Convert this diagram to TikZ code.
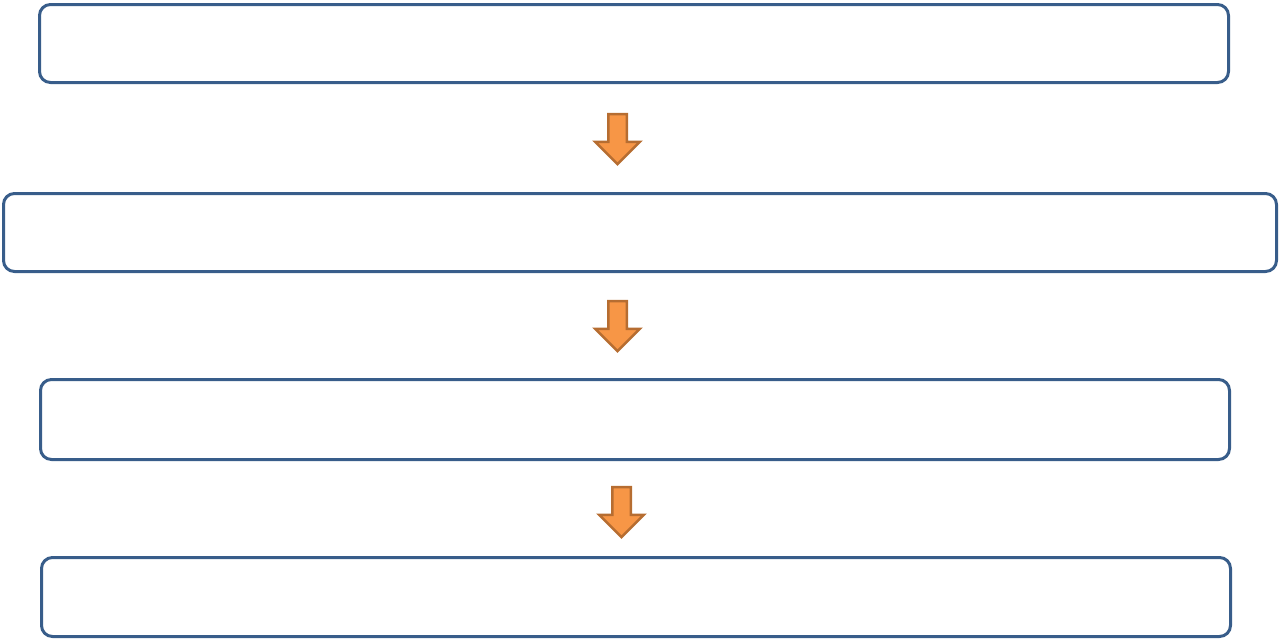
\documentclass[tikz,border=0pt]{standalone}
\usepackage{tikz}
\usetikzlibrary{shapes.arrows}
\definecolor{boxblue}{RGB}{56, 93, 138}
\definecolor{arroworange}{RGB}{247, 150, 70}
\definecolor{arrowedge}{RGB}{182, 109, 49}

\begin{document}
\begin{tikzpicture}[x=1pt, y=-1pt,
  flowbox/.style={draw=boxblue, line width=3pt, rounded corners=11pt,
    minimum height=78pt, inner sep=0pt},
  downarrow/.style={single arrow, draw=arrowedge, fill=arroworange,
    line width=2.5pt, shape border rotate=270, inner sep=8pt,
    single arrow head extend=13pt, minimum height=50pt}]
  \useasboundingbox (0,0) rectangle (1280,641);

  % Boxes
  \node[flowbox, minimum width=1189pt] (stage1) at (634,43.5) {};
  \node[flowbox, minimum width=1273pt] (stage2) at (640,232.5) {};
  \node[flowbox, minimum width=1189pt, minimum height=80pt] (stage3) at (635,419.5) {};
  \node[flowbox, minimum width=1189pt, minimum height=79pt] (stage4) at (636,597) {};

  % Arrows between boxes
  \node[downarrow] (step1) at (617.5,134.5) {};
  \node[downarrow] (step2) at (617.5,321.5) {};
  \node[downarrow] (step3) at (621.5,507.5) {};
\end{tikzpicture}
\end{document}
